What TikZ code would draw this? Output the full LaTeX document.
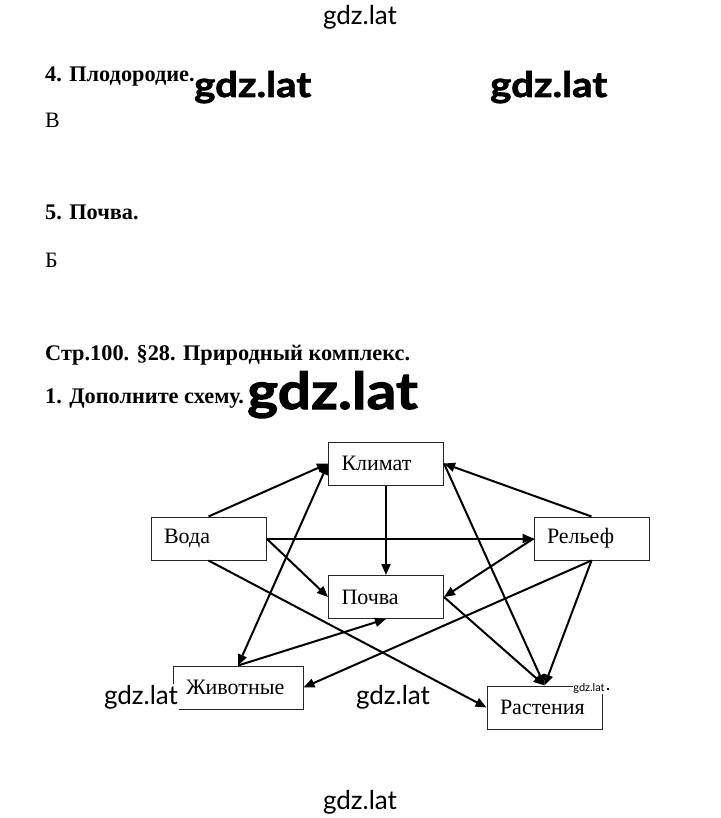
\documentclass[tikz,border=0pt]{standalone}
\usepackage{fontspec}
\setmainfont{Liberation Serif}
\newfontfamily\wmfont{Lato}
\newfontfamily\wmheavy[FakeStretch=1.15,FakeBold=2]{Lato}
\usetikzlibrary{positioning}
\usetikzlibrary{arrows.meta}
\tikzset{
    mynode/.style = {rectangle, draw=black!85, line width=1pt, align=left, text width=89pt, inner xsep=13pt, minimum height=43pt, font=\fontsize{22}{22}\selectfont, text=black},
    headnode/.style = {anchor=base west, inner sep=0pt, font=\bfseries\fontsize{22.3}{22.3}\selectfont},
    ansnode/.style = {anchor=base west, inner sep=0pt, font=\fontsize{22}{22}\selectfont},
    marknode/.style = {inner sep=1pt, fill=white, font=\wmfont\fontsize{26}{26}\selectfont},
    markbold/.style = {anchor=base west, inner sep=0pt, font=\wmheavy\bfseries\fontsize{35}{35}\selectfont},
    edgen/.style = {-{Triangle[length=11pt,width=9pt]}, line width=2pt, black},
    edgeb/.style = {{Triangle[length=11pt,width=9pt]}-{Triangle[length=11pt,width=9pt]}, line width=2pt, black}, % both ways
}
\begin{document}
\begin{tikzpicture}[x=1pt, y=-1pt]
  \useasboundingbox (0,0) rectangle (720,818);
  % questions and answers
  \node[headnode] (plodorodie) at (45,82) {4. Плодородие.};
  \node[ansnode] (otvetv) at (45,128) {В};
  \node[headnode] (pochvah) at (45,220) {5. Почва.};
  \node[ansnode] (otvetb) at (45,267) {Б};
  \node[headnode] (paragraf) at (45,360) {Стр.100. §28. Природный комплекс.};
  \node[headnode] (zadanie) at (45,403) {1. Дополните схему.};
  % scheme
  \node[mynode] (klimat) at (386,463.5) {Климат};
  \node[mynode] (voda) at (208.5,538.5) {Вода};
  \node[mynode] (relief) at (591.5,538.5) {Рельеф};
  \node[mynode] (pochva) at (386,597) {Почва};
  \node[mynode, text width=104pt] (zhivotnye) at (238,687.5) {Животные};
  \node[mynode] (rastenia) at (544.5,707.5) {Растения};
  \draw[edgen] (voda.north) -- (klimat.west);
  \draw[edgen] (relief.north) -- (klimat.east);
  \draw[edgen] (klimat.south) -- (pochva.north);
  \draw[edgen] (voda.east) -- (relief.west);
  \draw[edgen] (voda.east) -- (pochva.west);
  \draw[edgen] (voda.south) -- (rastenia.west);
  \draw[edgen] (relief.west) -- (pochva.east);
  \draw[edgen] (relief.south) -- (zhivotnye.east);
  \draw[edgen] (relief.south) -- (rastenia.north);
  \draw[edgen] (klimat.east) -- (rastenia.north);
  \draw[edgen] (pochva.east) -- (rastenia.north);
  \draw[edgeb] (klimat.west) -- (zhivotnye.north);
  \draw[edgen] (zhivotnye.north) -- (pochva.south);
  % watermarks
  \node[marknode] (wmtop) at (360,17) {gdz.lat};
  \node[markbold] (wmbolda) at (194,97) {gdz.lat};
  \node[markbold] (wmboldb) at (490,97) {gdz.lat};
  \node[markbold, font=\wmheavy\bfseries\fontsize{51}{51}\selectfont] (wmboldc) at (247,409) {gdz.lat};
  \node[marknode] (wmleft) at (141,697) {gdz.lat};
  \node[marknode] (wmmid) at (393,697) {gdz.lat};
  \node[marknode, font=\wmfont\fontsize{11}{11}\selectfont, inner sep=0.5pt] (wmsmall) at (589,688) {gdz.lat};
  \fill (wmsmall.east) ++(2,0) rectangle ++(2,2);
  \node[marknode] (wmbottom) at (360,802) {gdz.lat};
\end{tikzpicture}
\end{document}
